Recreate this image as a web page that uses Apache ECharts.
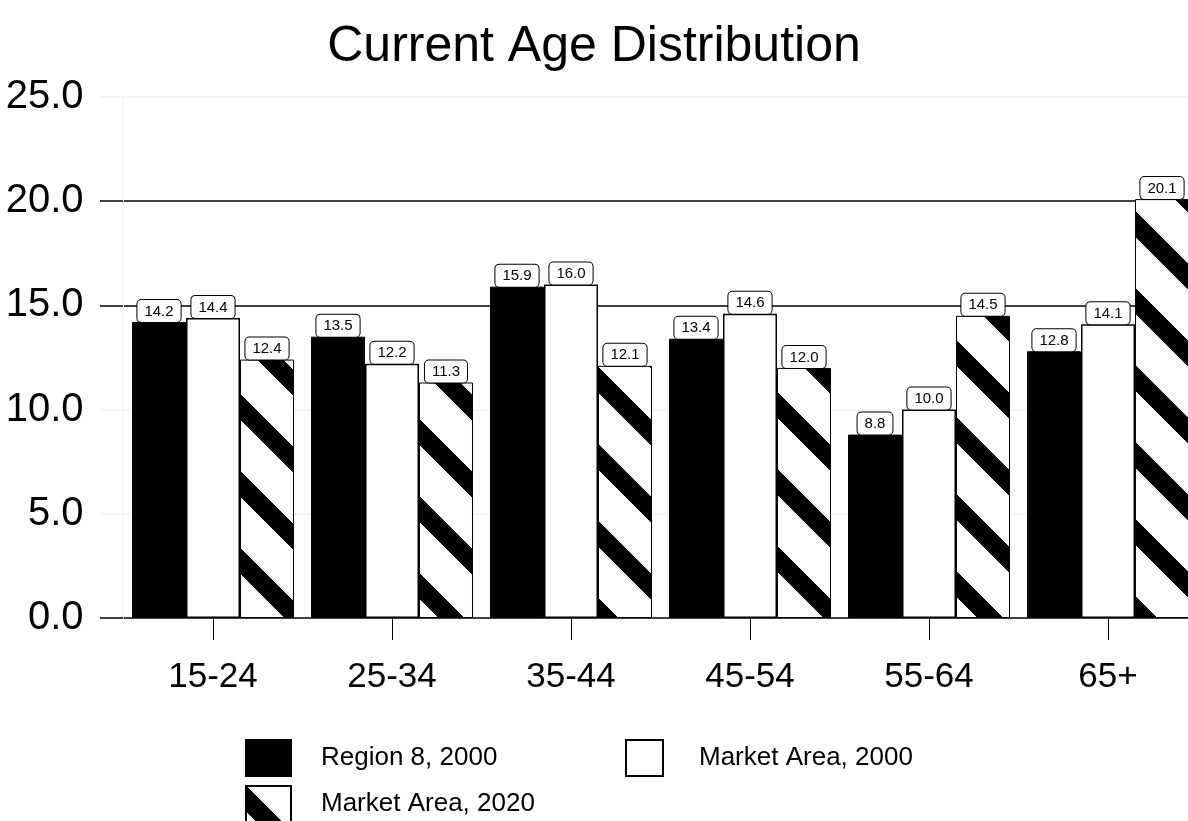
<!DOCTYPE html>
<html>
<head>
<meta charset="utf-8">
<script src="https://cdn.jsdelivr.net/npm/echarts@6.0.0/dist/echarts.min.js"></script>
<style>
html,body{margin:0;padding:0;background:#fff;}
#chart{width:1188px;height:821px;}
</style>
</head>
<body>
<div id="chart"></div>
<script>
const categories = ['15-24', '25-34', '35-44', '45-54', '55-64', '65+'];
const region2000 = [14.2, 13.5, 15.9, 13.4, 8.8, 12.8];
const market2000 = [14.4, 12.2, 16.0, 14.6, 10.0, 14.1];
const market2020 = [12.4, 11.3, 12.1, 12.0, 14.5, 20.1];
const yTicks = [0, 5, 10, 15, 20, 25];

function makeHatch() {
  const P = 77, T = 26;
  const c = document.createElement('canvas');
  c.width = P; c.height = P;
  const ctx = c.getContext('2d');
  const img = ctx.createImageData(P, P);
  for (let y = 0; y < P; y++) {
    for (let x = 0; x < P; x++) {
      const d = (((y - x) % P) + P) % P;
      const v = d < T ? 0 : 255;
      const i = (y * P + x) * 4;
      img.data[i] = v; img.data[i + 1] = v; img.data[i + 2] = v; img.data[i + 3] = 255;
    }
  }
  ctx.putImageData(img, 0, 0);
  return c;
}
const hatch = { image: makeHatch(), repeat: 'repeat' };

const FONT = 'Liberation Sans, Arial, sans-serif';
const chart = echarts.init(document.getElementById('chart'), null, { renderer: 'canvas' });

const labelStyle = {
  show: true,
  position: 'top',
  distance: 0,
  formatter: p => p.value.toFixed(1),
  fontFamily: FONT,
  fontSize: 15,
  color: '#000',
  backgroundColor: '#fff',
  borderColor: '#000',
  borderWidth: 1,
  borderRadius: 4,
  padding: [4, 7, 3, 7]
};

const legendText = pad => ({ fontFamily: FONT, fontSize: 26, color: '#000', padding: [0, 0, 0, pad] });

const option = {
  backgroundColor: '#fff',
  animation: false,
  title: {
    text: 'Current Age Distribution',
    left: 'center',
    top: 17,
    textStyle: { fontFamily: FONT, fontSize: 50, fontWeight: 'normal', color: '#000' }
  },
  legend: [
    {
      data: ['Region 8, 2000'], left: 245, top: 739, padding: 0, icon: 'rect',
      itemWidth: 45, itemHeight: 36, selectedMode: false, textStyle: legendText(25)
    },
    {
      data: ['Market Area, 2000'], left: 625, top: 739, padding: 0, icon: 'rect',
      itemWidth: 37, itemHeight: 36, selectedMode: false, textStyle: legendText(31)
    },
    {
      data: ['Market Area, 2020'], left: 245, top: 785, padding: 0, icon: 'rect',
      itemWidth: 45, itemHeight: 36, selectedMode: false, textStyle: legendText(25)
    }
  ],
  grid: [
    { left: 123.5, width: 1074, top: 97, bottom: 203, outerBoundsMode: 'none', containLabel: false },
    { left: 100, right: 0, top: 97, bottom: 203, outerBoundsMode: 'none', containLabel: false }
  ],
  xAxis: [
    {
      type: 'category', gridIndex: 0, data: categories,
      axisLine: { show: false },
      axisTick: { show: true, alignWithLabel: true, length: 22, lineStyle: { color: '#000', width: 1 } },
      axisLabel: { fontFamily: FONT, fontSize: 35, color: '#000', margin: 42 }
    },
    { type: 'value', gridIndex: 1, min: 0, max: 1, show: false }
  ],
  yAxis: [
    {
      type: 'value', gridIndex: 0, min: 0, max: 25, interval: 5,
      axisLine: { show: true, lineStyle: { color: '#f0f0f0' } },
      axisTick: { show: false },
      splitLine: { show: false },
      axisLabel: { fontFamily: FONT, fontSize: 40, color: '#000', margin: 40, formatter: v => v.toFixed(1) }
    },
    {
      type: 'value', gridIndex: 1, min: 0, max: 25, interval: 5,
      axisLine: { show: false }, axisTick: { show: false }, axisLabel: { show: false },
      splitLine: { show: true, lineStyle: { color: ['#000', '#f2f2f2', '#f2f2f2', '#000', '#000', '#f2f2f2'], width: 1.5 } }
    }
  ],
  series: [
    {
      name: 'Region 8, 2000', type: 'bar', data: region2000,
      xAxisIndex: 0, yAxisIndex: 0,
      barGap: '0%', barCategoryGap: '9.5%',
      itemStyle: { color: '#000', borderColor: '#000', borderWidth: 1 },
      label: labelStyle
    },
    {
      name: 'Market Area, 2000', type: 'bar', data: market2000,
      xAxisIndex: 0, yAxisIndex: 0,
      barGap: '0%', barCategoryGap: '9.5%',
      itemStyle: { color: '#fff', borderColor: '#000', borderWidth: 1.5 },
      label: labelStyle
    },
    {
      name: 'Market Area, 2020', type: 'bar', data: market2020,
      xAxisIndex: 0, yAxisIndex: 0,
      barGap: '0%', barCategoryGap: '9.5%',
      itemStyle: { color: hatch, borderColor: '#000', borderWidth: 1 },
      label: labelStyle
    }
  ]
};
chart.setOption(option);
</script>
</body>
</html>
